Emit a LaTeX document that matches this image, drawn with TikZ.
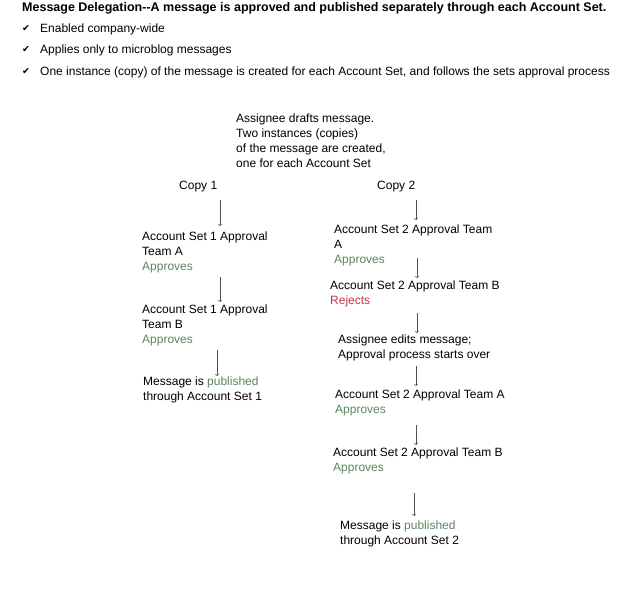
\documentclass[tikz,border=0pt]{standalone}
\usepackage{fontspec}
\setmainfont{Liberation Sans}
\newfontfamily\symfont{DejaVu Sans}
\usepackage{xcolor}
\usepackage{tikz}
\usetikzlibrary{arrows}
\definecolor{okgreen}{RGB}{88,134,96}
\definecolor{nored}{RGB}{200,50,70}
\definecolor{arrowgray}{RGB}{80,80,80}
\tikzstyle{txt} = [anchor=north west, inner sep=0pt, align=left, font=\fontsize{12}{15}\selectfont]
\tikzstyle{tick} = [anchor=north west, inner sep=0pt, font=\symfont\fontsize{9.5}{10}\selectfont]
\tikzstyle{arrow} = [draw=arrowgray, line width=0.6pt, ->, >=to]

\begin{document}
\begin{tikzpicture}[x=1pt, y=-1pt]
   \useasboundingbox (0,0) rectangle (627,589);
   \node (title) [txt, font=\fontsize{12.5}{15}\selectfont\bfseries] at (22,2.2) {Message Delegation-{}-A message is approved and published separately through each Account Set.};
   \node (t1) [tick] at (22,25) {✔};
   \node (b1) [txt] at (40,23.5) {Enabled company-wide};
   \node (t2) [tick] at (22,46) {✔};
   \node (b2) [txt] at (40,44.5) {Applies only to microblog messages};
   \node (t3) [tick] at (22,68) {✔};
   \node (b3) [txt] at (40,66.5) {One instance (copy) of the message is created for each Account Set, and follows the sets approval process};
   \node (draft) [txt] at (236,113.5) {Assignee drafts message.\\Two instances (copies)\\of the message are created,\\one for each Account Set};
   % copy 1
   \node (copy1) [txt] at (179,180.5) {Copy 1};
   \node (set1a) [txt] at (142,231.5) {Account Set 1 Approval\\Team A\\\textcolor{okgreen}{Approves}};
   \node (set1b) [txt] at (142,304.5) {Account Set 1 Approval\\Team B\\\textcolor{okgreen}{Approves}};
   \node (pub1) [txt] at (143,376.5) {Message is \textcolor{okgreen}{published}\\through Account Set 1};
   % copy 2
   \node (copy2) [txt] at (377,180.5) {Copy 2};
   \node (set2a) [txt] at (334,224.5) {Account Set 2 Approval Team\\A\\\textcolor{okgreen}{Approves}};
   \node (set2b) [txt] at (330,280.5) {Account Set 2 Approval Team B\\\textcolor{nored}{Rejects}};
   \node (edit) [txt] at (338,334.5) {Assignee edits message;\\Approval process starts over};
   \node (set2c) [txt] at (335,389.5) {Account Set 2 Approval Team A\\\textcolor{okgreen}{Approves}};
   \node (set2d) [txt] at (333,447.5) {Account Set 2 Approval Team B\\\textcolor{okgreen}{Approves}};
   \node (pub2) [txt] at (340,520.5) {Message is \textcolor{okgreen}{published}\\through Account Set 2};
   \coordinate (xl1) at (220,0);
   \coordinate (xl2) at (217,0);
   \coordinate (xr1) at (416,0);
   \coordinate (xr2) at (417,0);
   \coordinate (xr3) at (414,0);
   \draw [arrow, shorten <=8pt, shorten >=5.5pt] (copy1.south -| xl1) -- (set1a.north -| xl1);
   \draw [arrow, shorten <=4pt, shorten >=2.5pt] (set1a.south -| xl1) -- (set1b.north -| xl1);
   \draw [arrow, shorten <=4pt, shorten >=0.5pt] (set1b.south -| xl2) -- (pub1.north -| xl2);
   \draw [arrow, shorten <=8pt, shorten >=4.5pt] (copy2.south -| xr1) -- (set2a.north -| xr1);
   \draw [arrow, shorten <=-8pt, shorten >=2.5pt] (set2a.south -| xr2) -- (set2b.north -| xr2);
   \draw [arrow, shorten <=6pt, shorten >=1.5pt] (set2b.south -| xr2) -- (edit.north -| xr2);
   \draw [arrow, shorten <=5pt, shorten >=3.5pt] (edit.south -| xr1) -- (set2c.north -| xr1);
   \draw [arrow, shorten <=9pt, shorten >=2.5pt] (set2c.south -| xr1) -- (set2d.north -| xr1);
   \draw [arrow, shorten <=19pt, shorten >=4.5pt] (set2d.south -| xr3) -- (pub2.north -| xr3);
\end{tikzpicture}
\end{document}
